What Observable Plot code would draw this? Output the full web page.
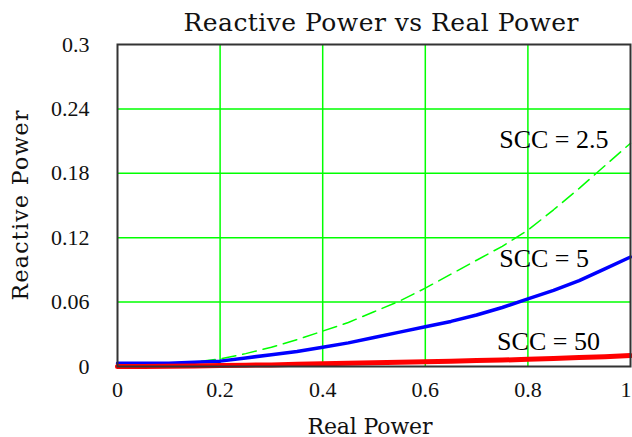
<!DOCTYPE html>
<html>
<head>
<meta charset="utf-8">
<script src="https://cdn.jsdelivr.net/npm/d3@7"></script>
<script src="https://cdn.jsdelivr.net/npm/@observablehq/plot@0.6"></script>
<style>
  html, body { margin: 0; padding: 0; background: #fff; }
  #chart svg { display: block; }
</style>
</head>
<body>
<div id="chart"></div>
<script>
const realPower = [0, 0.05, 0.1, 0.15, 0.2, 0.25, 0.3, 0.35, 0.4, 0.45, 0.5, 0.55, 0.6, 0.65, 0.7, 0.75, 0.8, 0.85, 0.9, 0.95, 1.0];
const scc2_5 = [0, 0.0005, 0.002, 0.004, 0.007, 0.012, 0.018, 0.025, 0.033, 0.041, 0.051, 0.061, 0.073, 0.086, 0.099, 0.112, 0.127, 0.146, 0.166, 0.187, 0.208];
const scc5   = [0.003, 0.003, 0.003, 0.004, 0.005, 0.008, 0.011, 0.014, 0.018, 0.022, 0.027, 0.032, 0.037, 0.042, 0.048, 0.055, 0.063, 0.071, 0.080, 0.091, 0.102];
const scc50  = [0, 0, 0.0003, 0.0005, 0.001, 0.0012, 0.0015, 0.002, 0.0025, 0.003, 0.0035, 0.004, 0.0045, 0.005, 0.0055, 0.006, 0.0067, 0.0075, 0.0083, 0.009, 0.0102];
const seriesLabels = ["SCC = 2.5", "SCC = 5", "SCC = 50"];
const labelX = [0.744, 0.744, 0.74];
const labelY = [0.211, 0.1, 0.023];
const xTicks = [0, 0.2, 0.4, 0.6, 0.8];
const xLastTick = [1];
const yTicks = [0, 0.06, 0.12, 0.18, 0.24, 0.3];
const titleText = "Reactive Power vs Real Power";
const xTitle = "Real Power";
const yTitle = "Reactive Power";

const toRows = (ys) => realPower.map((x, i) => ({x, y: ys[i]}));
const labels = seriesLabels.map((t, i) => ({t, x: labelX[i], y: labelY[i]}));

const FONT = "'Liberation Serif', 'Times New Roman', serif";
const TFONT = "'DejaVu Serif', serif";
const fmt = d3.format("~g");

const chart = Plot.plot({
  width: 632,
  height: 437,
  marginLeft: 117,
  marginRight: 2,
  marginTop: 44,
  marginBottom: 71,
  style: {fontFamily: FONT, fontSize: "22px", color: "#111", background: "#fff"},
  x: {domain: [0, 1]},
  y: {domain: [0, 0.3]},
  marks: [
    Plot.gridX([0.2, 0.4, 0.6, 0.8], {stroke: "#00ff00", strokeOpacity: 1, strokeWidth: 1.5}),
    Plot.gridY([0.06, 0.12, 0.18, 0.24], {stroke: "#00ff00", strokeOpacity: 1, strokeWidth: 1.5}),
    Plot.axisX({ticks: xTicks, tickSize: 0, tickPadding: 15, tickFormat: fmt, label: null, fontSize: 22}),
    Plot.text(xLastTick, {x: (d) => d, frameAnchor: "bottom", text: (d) => fmt(d), textAnchor: "end", lineAnchor: "top", dx: 1, dy: 15, fontSize: 22, fill: "#111"}),
    Plot.axisY({ticks: yTicks, tickSize: 0, tickPadding: 28, tickFormat: fmt, label: null, fontSize: 22}),
    Plot.line(toRows(scc2_5), {x: "x", y: "y", stroke: "#00ff00", strokeWidth: 1.5, strokeDasharray: "14,7"}),
    Plot.line(toRows(scc5), {x: "x", y: "y", stroke: "#0000ff", strokeWidth: 3.5}),
    Plot.line(toRows(scc50), {x: "x", y: "y", stroke: "#ff0000", strokeWidth: 5}),
    Plot.text(labels, {x: "x", y: "y", text: "t", textAnchor: "start", fontSize: 26, fill: "#000"}),
    Plot.frame({stroke: "#333", strokeWidth: 2}),
    Plot.text([titleText], {frameAnchor: "top", dy: -14, dx: 7, fontSize: 25, fontFamily: TFONT, fill: "#111", lineAnchor: "bottom", className: "ttl-title"}),
    Plot.text([xTitle], {frameAnchor: "bottom", dy: 67, dx: -4, fontSize: 22, fontFamily: TFONT, fill: "#111", lineAnchor: "bottom", className: "ttl-x"}),
    Plot.text([yTitle], {frameAnchor: "left", dx: -90, rotate: -90, textAnchor: "middle", lineAnchor: "bottom", fontSize: 22, fontFamily: TFONT, fill: "#111", className: "ttl-y"})
  ]
});
d3.select(chart).selectAll(".ttl-title text").attr("textLength", 395).attr("lengthAdjust", "spacing");
d3.select(chart).selectAll(".ttl-x text").attr("textLength", 125).attr("lengthAdjust", "spacing");
d3.select(chart).selectAll(".ttl-y text").attr("textLength", 190).attr("lengthAdjust", "spacing");
document.getElementById("chart").appendChild(chart);
</script>
</body>
</html>
